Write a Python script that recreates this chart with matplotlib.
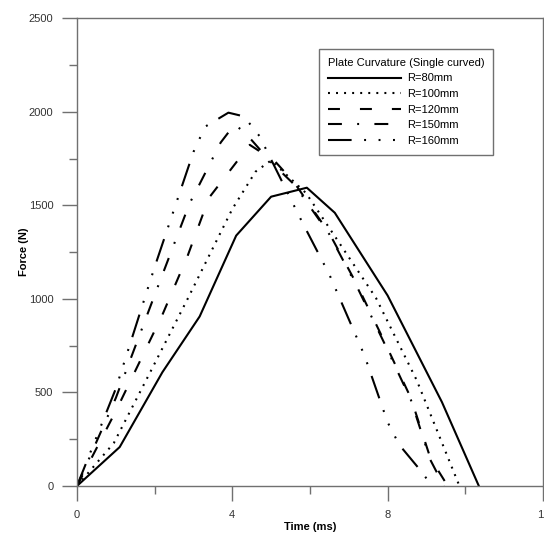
import numpy as np
import matplotlib
matplotlib.use('Agg')
import matplotlib.pyplot as plt
from matplotlib.ticker import MultipleLocator

plt.rcParams['font.family'] = ['Liberation Sans', 'DejaVu Sans']
plt.rcParams['lines.scale_dashes'] = False

# force-time curves (time in ms, force in N)
t_80 = [0, 1.1, 2.2, 3.16, 4.1, 5.0, 5.92, 6.64, 8.0, 9.4, 10.35]
f_80 = [0, 208, 608, 906, 1338, 1546, 1594, 1460, 1018, 448, 0]

t_100 = [0, 0.95, 1.95, 2.85, 4.0, 4.6, 5.0, 5.9, 7.7, 8.75, 9.85]
f_100 = [0, 230, 634, 1000, 1480, 1680, 1740, 1565, 1005, 565, 0]

t_120 = [0, 1.0, 2.2, 2.85, 3.4, 4.45, 5.1, 5.6, 6.5, 7.2, 7.9, 8.6, 9.1, 9.55]
f_120 = [0, 400, 915, 1230, 1540, 1823, 1735, 1620, 1350, 1080, 780, 470, 150, 0]

t_150 = [0, 1.0, 2.0, 2.9, 3.15, 3.7, 4.05, 4.3, 5.0, 5.6, 6.5, 7.2, 7.9, 8.6, 9.1, 9.45]
f_150 = [0, 470, 1020, 1510, 1610, 1835, 1930, 1895, 1730, 1610, 1345, 1070, 770, 460, 140, 0]

t_160 = [0, 1.0, 2.0, 3.0, 3.3, 3.9, 4.3, 4.7, 5.8, 6.5, 7.4, 8.0, 8.3, 8.8, 9.15]
f_160 = [0, 520, 1170, 1785, 1920, 1995, 1975, 1870, 1410, 1130, 700, 341, 220, 95, 0]

labels = ['R=80mm', 'R=100mm', 'R=120mm', 'R=150mm', 'R=160mm']

fig = plt.figure(figsize=(5.44, 5.34), dpi=100)
ax = fig.add_axes([0.1415, 0.0899, 0.8565, 0.8761])

lw = 1.5
ax.plot(t_80, f_80, color='black', lw=lw, ls='-', label=labels[0])
ax.plot(t_100, f_100, color='black', lw=lw, ls=(0, (1.4, 4.4)), label=labels[1])
ax.plot(t_120, f_120, color='black', lw=lw, ls=(0, (8.6, 14.4)), label=labels[2])
ax.plot(t_150, f_150, color='black', lw=lw, ls=(0, (10, 11, 1.4, 11)), label=labels[3])
ax.plot(t_160, f_160, color='black', lw=lw,
        ls=(0, (17, 9, 1.4, 9, 1.4, 9, 1.4, 9)), label=labels[4])

ax.set_xlim(0, 12)
ax.set_ylim(0, 2500)
ax.xaxis.set_major_locator(MultipleLocator(4))
ax.xaxis.set_minor_locator(MultipleLocator(2))
ax.yaxis.set_major_locator(MultipleLocator(500))
ax.yaxis.set_minor_locator(MultipleLocator(250))

spine_c = '#707070'
for s in ax.spines.values():
    s.set_color(spine_c)
    s.set_linewidth(1.0)
ax.tick_params(which='major', length=11, width=1.0, color=spine_c,
               labelsize=8, pad=6, labelcolor='#333333')
ax.tick_params(which='minor', length=5.5, width=1.0, color=spine_c)

ax.set_xlabel('Time (ms)', fontsize=8, fontweight='bold', labelpad=2)
ax.set_ylabel('Force (N)', fontsize=8, fontweight='bold', labelpad=0)

leg = ax.legend(loc='upper right', bbox_to_anchor=(0.893, 0.934),
                borderaxespad=0, fontsize=8, title='Plate Curvature (Single curved)',
                title_fontsize=8, alignment='left', fancybox=False,
                edgecolor='#707070', handlelength=6.6, handletextpad=0.6,
                labelspacing=0.5, borderpad=0.8, framealpha=1)
leg.get_frame().set_linewidth(1.0)

fig.savefig('out.png', dpi=100)
